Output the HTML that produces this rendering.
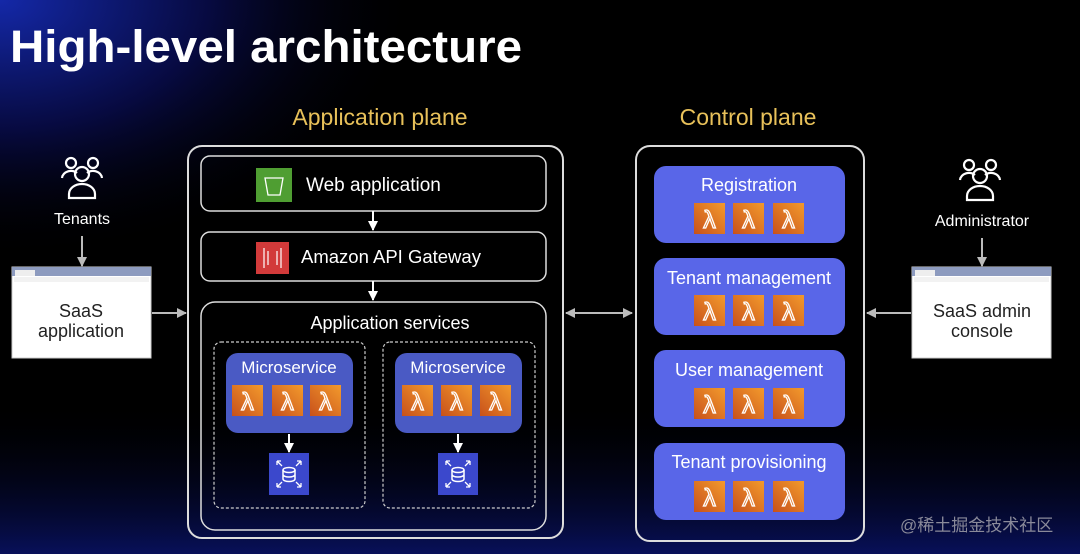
<!DOCTYPE html>
<html><head><meta charset="utf-8"><style>
html,body{margin:0;padding:0;background:#000;}
svg{display:block}
text{font-family:"Liberation Sans","Noto Sans CJK SC",sans-serif;}
</style></head><body>
<svg width="1080" height="554" viewBox="0 0 1080 554" xmlns="http://www.w3.org/2000/svg">
<defs>
<radialGradient id="bg1" cx="0" cy="0" r="1" gradientUnits="userSpaceOnUse" gradientTransform="translate(0,0) scale(420,260)">
<stop offset="0" stop-color="#1428a8"/><stop offset="0.5" stop-color="#070a40"/><stop offset="1" stop-color="#000" stop-opacity="0"/>
</radialGradient>
<linearGradient id="bg2" x1="0" y1="0" x2="0" y2="1">
<stop offset="0" stop-color="#000" stop-opacity="0"/><stop offset="1" stop-color="#0a1470" stop-opacity="0.8"/>
</linearGradient>
<linearGradient id="lam" x1="0" y1="1" x2="1" y2="0">
<stop offset="0" stop-color="#c8511b"/><stop offset="1" stop-color="#f39a2c"/>
</linearGradient>
<marker id="ah" viewBox="0 0 10 10" refX="9" refY="5" markerWidth="5" markerHeight="5" orient="auto-start-reverse">
<path d="M0,0 L10,5 L0,10 z" fill="#fff"/></marker>
<marker id="ahg" viewBox="0 0 10 10" refX="9" refY="5" markerWidth="5" markerHeight="5" orient="auto-start-reverse">
<path d="M0,0 L10,5 L0,10 z" fill="#bbb"/></marker>
<g id="L"><rect width="31" height="31" fill="url(#lam)"/><text x="15.5" y="25" font-size="25" fill="none" stroke="#fff" stroke-width="1.3" text-anchor="middle">λ</text></g>
<g id="DB"><rect width="40" height="42" fill="#3b48cc"/><ellipse cx="20" cy="17" rx="6" ry="2.5" fill="none" stroke="#fff" stroke-width="1.5"/><path d="M14 17 v9 a6 2.5 0 0 0 12 0 v-9 M14 21.5 a6 2.5 0 0 0 12 0" fill="none" stroke="#fff" stroke-width="1.5"/><path d="M8 8 l5 5 M8 8 h4 M8 8 v4 M32 8 l-5 5 M32 8 h-4 M32 8 v4 M8 34 l5-5 M8 34 h4 M8 34 v-4 M32 34 l-5-5 M32 34 h-4 M32 34 v-4" fill="none" stroke="#fff" stroke-width="1.3"/></g>
<g id="P" fill="none" stroke="#fff" stroke-width="2.2"><circle cx="13" cy="9" r="5"/><circle cx="35" cy="9" r="5"/><path d="M4 24 a9 8 0 0 1 15-5 M44 24 a9 8 0 0 0-15-5"/><circle cx="24" cy="20" r="7"/><path d="M11 44 v-4 a13 10 0 0 1 26 0 v4 z"/></g>
<g id="W"><rect width="139" height="91" fill="#fff" stroke="#ccc"/><rect width="139" height="9" fill="#8d9bbf"/><rect x="3" y="3" width="20" height="6" fill="#eee"/><rect x="2" y="10" width="135" height="5" fill="#f2f2f2"/></g>
</defs>
<rect width="1080" height="554" fill="#000"/>
<rect width="1080" height="554" fill="url(#bg1)"/>
<rect y="400" width="1080" height="154" fill="url(#bg2)"/>

<text x="10" y="62" font-size="45" font-weight="bold" fill="#fff" textLength="512" lengthAdjust="spacingAndGlyphs">High-level architecture</text>
<text x="380" y="125" font-size="23" fill="#e8c15a" text-anchor="middle">Application plane</text>
<text x="748" y="125" font-size="23" fill="#e8c15a" text-anchor="middle">Control plane</text>

<!-- tenants -->
<use href="#P" x="58" y="154"/>
<text x="82" y="224" font-size="16" fill="#fff" text-anchor="middle">Tenants</text>
<line x1="82" y1="236" x2="82" y2="266" stroke="#bbb" stroke-width="2" marker-end="url(#ahg)"/>
<use href="#W" x="12" y="267"/>
<text x="81" y="317" font-size="18" fill="#222" text-anchor="middle">SaaS</text>
<text x="81" y="337" font-size="18" fill="#222" text-anchor="middle">application</text>
<line x1="152" y1="313" x2="186" y2="313" stroke="#bbb" stroke-width="2" marker-end="url(#ahg)"/>

<!-- app plane -->
<rect x="188" y="146" width="375" height="392" rx="14" fill="none" stroke="#ddd" stroke-width="2"/>
<rect x="201" y="156" width="345" height="55" rx="9" fill="none" stroke="#ddd" stroke-width="1.5"/>
<rect x="256" y="168" width="36" height="34" fill="#4f9e32"/>
<path d="M265 178 h18 l-3 17 h-12 z" fill="none" stroke="#fff" stroke-width="1.3"/>
<text x="306" y="191" font-size="19" fill="#fff">Web application</text>
<line x1="373" y1="211" x2="373" y2="230" stroke="#fff" stroke-width="2" marker-end="url(#ah)"/>
<rect x="201" y="232" width="345" height="49" rx="9" fill="none" stroke="#ddd" stroke-width="1.5"/>
<rect x="256" y="242" width="33" height="32" fill="#d23a3a"/>
<path d="M264 248 v20 M281 248 v20 M268 251 v14 M277 251 v14" stroke="#fff" stroke-width="1.2"/>
<text x="301" y="263" font-size="18.5" fill="#fff">Amazon API Gateway</text>
<line x1="373" y1="281" x2="373" y2="300" stroke="#fff" stroke-width="2" marker-end="url(#ah)"/>
<rect x="201" y="302" width="345" height="228" rx="14" fill="none" stroke="#ddd" stroke-width="1.5"/>
<text x="390" y="329" font-size="18" fill="#fff" text-anchor="middle">Application services</text>

<rect x="214" y="342" width="151" height="166" rx="7" fill="none" stroke="#ccc" stroke-width="1.2" stroke-dasharray="3,2"/>
<rect x="383" y="342" width="152" height="166" rx="7" fill="none" stroke="#ccc" stroke-width="1.2" stroke-dasharray="3,2"/>
<rect x="226" y="353" width="127" height="80" rx="12" fill="#4a5ac4"/>
<rect x="395" y="353" width="127" height="80" rx="12" fill="#4a5ac4"/>
<text x="289" y="373" font-size="17" fill="#fff" text-anchor="middle">Microservice</text>
<text x="458" y="373" font-size="17" fill="#fff" text-anchor="middle">Microservice</text>
<use href="#L" x="232" y="385"/><use href="#L" x="272" y="385"/><use href="#L" x="310" y="385"/>
<use href="#L" x="402" y="385"/><use href="#L" x="441" y="385"/><use href="#L" x="480" y="385"/>
<line x1="289" y1="434" x2="289" y2="452" stroke="#fff" stroke-width="2" marker-end="url(#ah)"/>
<line x1="458" y1="434" x2="458" y2="452" stroke="#fff" stroke-width="2" marker-end="url(#ah)"/>
<use href="#DB" x="269" y="453"/>
<use href="#DB" x="438" y="453"/>

<line x1="566" y1="313" x2="632" y2="313" stroke="#bbb" stroke-width="2" marker-start="url(#ahg)" marker-end="url(#ahg)"/>

<!-- control plane -->
<rect x="636" y="146" width="228" height="395" rx="14" fill="none" stroke="#ddd" stroke-width="2"/>
<g font-size="18" fill="#fff" text-anchor="middle">
<rect x="654" y="166" width="191" height="77" rx="12" fill="#5966e8"/>
<text x="749" y="191">Registration</text>
<rect x="654" y="258" width="191" height="77" rx="12" fill="#5966e8"/>
<text x="749" y="284">Tenant management</text>
<rect x="654" y="350" width="191" height="77" rx="12" fill="#5966e8"/>
<text x="749" y="376">User management</text>
<rect x="654" y="443" width="191" height="77" rx="12" fill="#5966e8"/>
<text x="749" y="468">Tenant provisioning</text>
</g>
<use href="#L" x="694" y="203"/><use href="#L" x="733" y="203"/><use href="#L" x="773" y="203"/>
<use href="#L" x="694" y="295"/><use href="#L" x="733" y="295"/><use href="#L" x="773" y="295"/>
<use href="#L" x="694" y="388"/><use href="#L" x="733" y="388"/><use href="#L" x="773" y="388"/>
<use href="#L" x="694" y="481"/><use href="#L" x="733" y="481"/><use href="#L" x="773" y="481"/>

<!-- admin -->
<use href="#P" x="956" y="156"/>
<text x="982" y="226" font-size="16" fill="#fff" text-anchor="middle">Administrator</text>
<line x1="982" y1="238" x2="982" y2="266" stroke="#bbb" stroke-width="2" marker-end="url(#ahg)"/>
<use href="#W" x="912" y="267"/>
<text x="982" y="317" font-size="18" fill="#222" text-anchor="middle">SaaS admin</text>
<text x="982" y="337" font-size="18" fill="#222" text-anchor="middle">console</text>
<line x1="911" y1="313" x2="867" y2="313" stroke="#bbb" stroke-width="2" marker-end="url(#ahg)"/>

<text x="900" y="531" font-size="17" fill="#8a8a9a">@稀土掘金技术社区</text>
</svg>
</body></html>
